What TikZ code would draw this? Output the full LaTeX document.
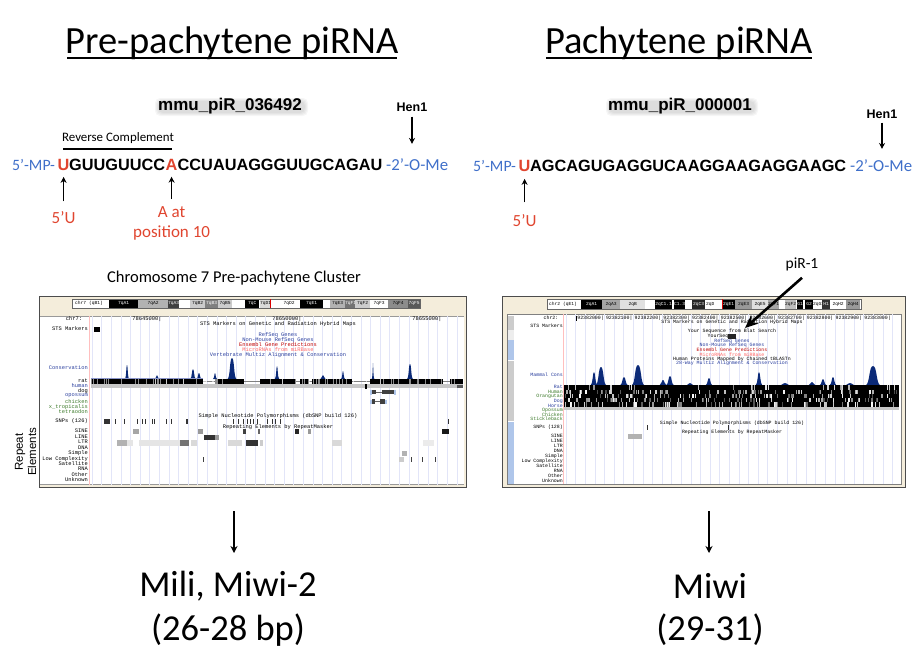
\documentclass[tikz,border=0pt]{standalone}
\usepackage{fontspec}
\setmainfont{Carlito}
\newfontfamily\seqfont{Liberation Sans}
\newfontfamily\trackfont{Liberation Mono}
\usetikzlibrary{arrows.meta, positioning, calc}
\definecolor{slideblue}{HTML}{3F6FC9}
\definecolor{slidered}{HTML}{E0452F}
\definecolor{navypeak}{HTML}{0B2A78}
\definecolor{beige}{HTML}{F4EDDB}
\definecolor{gridline}{HTML}{E2E5F8}
\definecolor{sideblue}{HTML}{AFC6EA}
\definecolor{trackblue}{HTML}{2A3F9E}
\definecolor{trackgreen}{HTML}{3C7A2A}
\newcommand{\fsz}[1]{\fontsize{#1}{#1}\selectfont}

\begin{document}
\begin{tikzpicture}[
    x=1pt, y=-1pt,
    title/.style={font=\fsz{38.5}, inner sep=0pt},
    bigtext/.style={font=\fsz{36.5}, inner sep=0pt},
    seq/.style={font=\seqfont\bfseries\fsz{16.3}, inner sep=0pt, anchor=base west},
    mod/.style={font=\fsz{16.8}, text=slideblue, inner sep=0pt, anchor=base west},
    modleft/.style={mod, font=\fsz{15.8}},
    redseq/.style={seq, text=slidered},
    redlabel/.style={font=\fsz{17}, text=slidered, inner sep=0pt},
    piname/.style={font=\seqfont\bfseries\fsz{17}, inner sep=0pt},
    pihalo/.style={black, opacity=0.035, rounded corners=5pt},
    hen/.style={font=\seqfont\bfseries\fsz{12.5}, inner sep=0pt},
    small/.style={font=\fsz{15}, inner sep=0pt},
    arrowthin/.style={-{Stealth[length=6pt, width=6pt]}, line width=1.4pt},
    arrowbig/.style={-{Stealth[length=7pt, width=7pt]}, line width=1.5pt},
    tracklabel/.style={font=\trackfont\fsz{5.4}, anchor=east, inner sep=0pt},
    trackcentre/.style={font=\trackfont\fsz{5.4}, inner sep=0pt},
    tracklabelR/.style={font=\trackfont\fsz{4.9}, anchor=east, inner sep=0pt},
    trackcentreR/.style={font=\trackfont\fsz{4.9}, inner sep=0pt},
    band/.style={font=\trackfont\fsz{4.6}, inner sep=0pt}
]
    \useasboundingbox (0,0) rectangle (914,654);
    \pgfmathsetseed{11}

    % Titles
    \node[title] (titleL) at (232,43) {Pre-pachytene piRNA};
    \node[title] (titleR) at (679,43) {Pachytene piRNA};
    \draw[line width=1.3pt] (67,58) -- (397,58);
    \draw[line width=1.3pt] (546,58) -- (812,58);

    % Left sequence
    \foreach \d in {0,1,2,3}
        \fill[pihalo] ({158-\d},{101-\d}) rectangle ({305+\d},{113+\d});
    \node[piname] (nameL) at (230,106) {mmu\_piR\_036492};
    \node[hen] (henL) at (412,107) {Hen1};
    \node[small, font=\fsz{12.9}] (revcomp) at (118,138) {Reverse Complement};
    \draw[line width=2.5pt] (63,149) -- (172,149);
    \node[modleft] (mpL) at (12,170) {5'-MP-};
    \node[redseq] (uL) at (57.5,170) {U};
    \node[seq] (seqLa) at (69,170) {GUUGUUCC};
    \node[redseq] (aL) at (165.5,170) {A};
    \node[seq] (seqLb) at (177.5,170) {CCUAUAGGGUUGCAGAU};
    \node[mod] (meL) at (386,170) {-2'-O-Me};
    \node[redlabel, below=41pt of uL] (fiveL) {5'U};
    \node[redlabel, below=36pt of aL] (atL) {A at};
    \node[redlabel, below=8pt of atL] (posL) {position 10};
    \draw[arrowthin, shorten >=6.5pt] (fiveL.north) ++(0,-10) -- (uL.south);
    \draw[arrowthin, shorten >=6.5pt] (atL.north) ++(0,-7) -- (aL.south);
    \draw[arrowthin] (henL.south) ++(0,5) -- ($(henL.south |- meL.north)+(0,-14)$);

    % Right sequence
    \foreach \d in {0,1,2,3}
        \fill[pihalo] ({609-\d},{101-\d}) rectangle ({755+\d},{113+\d});
    \node[piname] (nameR) at (680,106) {mmu\_piR\_000001};
    \node[hen] (henR) at (882,114) {Hen1};
    \node[modleft] (mpR) at (473,171) {5'-MP-};
    \node[redseq] (uR) at (518.5,171) {U};
    \node[seq] (seqR) at (530,171) {AGCAGUGAGGUCAAGGAAGAGGAAGC};
    \node[mod] (meR) at (850,171) {-2'-O-Me};
    \node[redlabel, below=43pt of uR] (fiveR) {5'U};
    \draw[arrowthin, shorten >=7.5pt] (fiveR.north) ++(0,-12) -- (uR.south);
    \draw[arrowthin] (henR.south) ++(0,4) -- ($(henR.south |- meR.north)+(0,-10)$);

    % Left browser shot
    \node[small, font=\fsz{16.5}] (clusterL) at (234,278) {Chromosome 7 Pre-pachytene Cluster};
    \fill[beige] (39,296) rectangle (466,487);
    \fill[white] (40,316) rectangle (464,485);
    \draw[black!70, line width=0.8pt] (466,296) -- (39,296) -- (39,487) -- (466,487) -- cycle;
    \draw[black!40, line width=0.5pt] (40,316) -- (464,316) (40,484.5) -- (464,484.5);
    \foreach \x in {0,...,38}
        \draw[gridline, line width=0.6pt] ({92+\x*9.6},316) -- ({92+\x*9.6},485);
    \draw[red!25, line width=0.6pt] (89.5,316) -- (89.5,485);
    \fill[white] (72,299) rectangle (420,308);
    \draw[black!60, line width=0.8pt] (72,299) rectangle (420,308);
    \node[band, anchor=west] (chrL) at (75,303.5) {chr7 (qB1)};
    \foreach \a/\b/\c/\t/\l in {109/138/black/white/7qA1,138/168/black!30/black/7qA2,168/178/black!75/white/7qA3,190/205/black!20/black/7qB2,205/218/black!50/white/7qB3,218/232/black!20/black/7qB5,245/259/black/white/7qC,260/270/black!15/black/7qD1,278/300/white/black/7qD2,300/323/black/white/7qE1,330/345/black!30/black/7qE3,345/355/black!55/white/7qF1,355/370/black!20/black/7qF2,370/388/white/black/7qF3,388/408/black!45/black/7qF4,408/420/black!65/white/7qF5}
        \node[band, fill=\c, text=\t, minimum height=8pt, minimum width={(\b-\a)*1pt}, anchor=west] (bandL\a) at (\a,303.5) {\l};
    \fill[red!85!black] (269.5,299) rectangle (271,308);

    \node[trackcentre] (rulerL) at (74,319) {chr7:};
    \foreach \x/\t in {147/78645000,287/78650000,427/78655000}
        \node[trackcentre] (rule\x) at (\x,319) {\t|};
    \foreach \y/\c/\t in {
        324/black/{STS Markers on Genetic and Radiation Hybrid Maps},
        335/trackblue/{RefSeq Genes},
        340/trackblue/{Non-Mouse RefSeq Genes},
        345/red!75!black/{Ensembl Gene Predictions},
        350/red!60/{MicroRNAs from miRBase},
        355/trackblue/{Vertebrate Multiz Alignment \& Conservation},
        416/black/{Simple Nucleotide Polymorphisms (dbSNP build 126)},
        427/black/{Repeating Elements by RepeatMasker}}
        \node[trackcentre, text=\c] (centreL\y) at (278,\y) {\t};
    \foreach \y/\c/\t in {
        329/black/{STS Markers},368/trackblue/{Conservation},381/black/rat,386/trackblue/human,391/black/dog,
        396/trackblue/opossum,402/trackgreen/chicken,407/trackgreen/{x\_tropicalis},412/trackgreen/tetraodon,
        421/black/{SNPs (126)},431/black/SINE,437/black/LINE,442/black/LTR,448/black/DNA,453/black/Simple,
        459/black/{Low Complexity},464/black/Satellite,469/black/RNA,475/black/Other,480/black/Unknown}
        \node[tracklabel, text=\c] (trackL\y) at (88,\y) {\t};
    \fill[black] (94,327) rectangle (100,332);

    % Conservation peaks, left
    \foreach \x/\w/\t in {127/1.2/365,157/1/375,193/1.8/369,199/1.5/373,215/1/373,232/3.5/358,277/1.2/366,323/1.5/375,343/1/371,373/0.4/363,410/2/364}
        \fill[navypeak] ({\x-\w-1},379) .. controls ({\x-\w*0.5},378) and ({\x-\w*0.7},\t) .. (\x,\t) .. controls ({\x+\w*0.7},\t) and ({\x+\w*0.5},378) .. ({\x+\w+1},379) -- cycle;
    \fill[trackblue!55] (91,378) rectangle (203,379.5);
    \fill[black!22] (91,384) rectangle (463,388);
    \fill[black!65] (457,385) rectangle (463,388);
    \draw[black!50, line width=0.7pt] (203,381.5) -- (463,381.5);
    \foreach \a/\b in {91/203,215/244,260/296,300/309,312/352,370/443,450/463}
        \fill[black] (\a,379) rectangle (\b,384);
    \foreach \i in {1,...,70} {
        \pgfmathsetmacro\px{91+rnd*372}
        \pgfmathsetmacro\pw{0.3+rnd*0.7}
        \fill[white, opacity=0.55] (\px,379) rectangle ({\px+\pw},384);
    }
    \fill[black] (365,384) rectangle (367,389);
    \draw[sideblue, line width=1.4pt] (371,389.5) -- (371,394.5) (395,389.5) -- (395,394.5) (371,399.5) -- (371,404) (386,399.5) -- (386,404);
    \draw[black!60] (372,392) -- (394,392) (372,401.5) -- (385,401.5);
    \foreach \a/\b/\yy in {372/376/392,382/394/392,372/375/401.5,380/385/401.5}
        \fill[black!75] (\a,{\yy-2.2}) rectangle (\b,{\yy+2.2});

    % SNP ticks and repeats, left
    \fill[black!80] (104,419) rectangle (110,424);
    \fill[black!80] (186,419) rectangle (188,424);
    \foreach \x in {115,124,137,142,145,152,154,166,171,233,238,243,247,250,253,257,267,272,275,280,448}
        \draw[black!80, line width=0.6pt] (\x,419) -- (\x,424);
    \foreach \a/\b/\t/\u/\c in {
        133/139/429/434/black!35,198/203/429/434/black!40,243/246/429/434/black!75,258/260/429/434/black!60,
        295/299/429/434/black!85,308/311/429/434/black!40,442/449/429/434/black!90,
        204/215/435/440/black!80,215/219/435/440/black!40,
        117/127/440/446/black!30,127/133/440/446/black!10,139/180/440/446/black!10,180/189/440/446/black!55,
        191/197/440/446/black!15,228/242/440/446/black!15,246/258/440/446/black!80,260/263/440/446/black!20,
        332/342/440/446/black!15,423/434/440/446/black!8,402/407/451/456/black!30,399/404/457/462/black!20}
        \fill[\c] (\a,\t) rectangle (\b,\u);
    \foreach \x in {203,411,422,435}
        \draw[black!75, line width=0.6pt] (\x,457) -- (\x,462);
    \node[font=\seqfont\fsz{11.5}, rotate=90, inner sep=0pt] (repeatA) at (20,452) {Repeat};
    \node[font=\seqfont\fsz{11.5}, rotate=90, inner sep=0pt] (repeatB) at (32,452) {Elements};

    % Right browser shot
    \fill[beige] (502,296) rectangle (905,487);
    \fill[white] (507,314) rectangle (901,484);
    \draw[black!70, line width=0.8pt] (905,296) -- (502,296) -- (502,487) -- (905,487) -- cycle;
    \draw[black!50, line width=0.5pt] (507,314) rectangle (901,484);
    \foreach \a/\b/\c in {316/330/black!20,330/340/black!7,340/360/sideblue,361/421/black!20,422/431/sideblue,431/484/sideblue}
        \fill[\c] (507.5,\a) rectangle (514,\b);
    \foreach \x in {0,...,34}
        \draw[gridline, line width=0.6pt] ({566+\x*9.6},314) -- ({566+\x*9.6},484);
    \draw[red!25, line width=0.6pt] (563.5,314) -- (563.5,484);
    \fill[white] (547,299) rectangle (861,309);
    \draw[black!60, line width=0.8pt] (547,299) rectangle (861,309);
    \node[band, anchor=west] (chrR) at (549,304) {chr2 (qE1)};
    \foreach \a/\b/\c/\t/\l in {581/602/black/white/2qA1,602/620/black!35/black/2qA3,620/645/black!12/black/2qB,655/672/black/white/2qC1.1,674/685/black/white/C1.3,692/705/black!85/white/2qC3,705/715/white/black/2qD,722/735/black/white/2qE1,735/752/black!40/black/2qE3,752/768/black!12/black/2qE5,768/778/black!35/black/2qF1,785/795/black!25/black/2qF2,797/803/black/white/G1,805/813/black/white/G2,813/822/white/black/2qG3,822/830/black!80/white/H1,830/846/white/black/2qH2,846/860/black!40/black/2qH4}
        \node[band, fill=\c, text=\t, minimum height=9pt, minimum width={(\b-\a)*1pt}, anchor=west] (bandR\a) at (\a,304) {\l};
    \fill[red!85!black] (721.5,299) rectangle (723,309);

    \node[trackcentreR] (rulerR) at (551,318) {chr2:};
    \draw[black, line width=0.5pt] (576,315.5) -- (576,320.5);
    \foreach \i/\t in {0/92382000,1/92382100,2/92382200,3/92382300,4/92382400,5/92382500,6/92382600,7/92382700,8/92382800,9/92382900,10/92383000}
        \node[trackcentreR, anchor=east] (ruleR\i) at ({604+\i*28.7},318) {\t|};
    \foreach \y/\x/\c/\n/\t in {
        322/732/black/a/{STS Markers on Genetic and Radiation Hybrid Maps},
        331/732/black/b/{Your Sequence from Blat Search},
        336/718/black/c/{YourSeq},
        341/732/trackblue/d/{RefSeq Genes},
        345.5/732/trackblue/e/{Non-Mouse RefSeq Genes},
        350/732/red!75!black/f/{Ensembl Gene Predictions},
        354.5/732/red!60/g/{MicroRNAs from miRBase},
        359/732/black/h/{Human Proteins Mapped by Chained tBLASTn},
        363.5/732/trackblue/i/{28-Way Multiz Alignment \& Conservation},
        423/732/black/j/{Simple Nucleotide Polymorphisms (dbSNP build 126)},
        432/732/black/k/{Repeating Elements by RepeatMasker}}
        \node[trackcentreR, text=\c] (centreR\n) at (\x,\y) {\t};
    \fill[black!85] (728,334) rectangle (736,338.5);
    \foreach \y/\c/\n/\t in {
        326/black/a/{STS Markers},375/trackblue/b/{Mammal Cons},387/trackblue/c/Rat,392/trackgreen/d/Human,396.5/trackgreen/e/Orangutan,
        401/trackblue/f/Dog,405.5/trackblue/g/Horse,410/trackgreen/h/Opossum,414.5/trackgreen/i/Chicken,419/trackgreen/j/Stickleback,
        427/black/k/{SNPs (128)},436/black/l/SINE,441/black/m/LINE,446/black/n/LTR,451/black/o/DNA,456/black/p/Simple,
        461/black/q/{Low Complexity},466/black/r/Satellite,471/black/s/RNA,476/black/t/Other,481/black/u/Unknown}
        \node[tracklabelR, text=\c] (trackR\n) at (563,\y) {\t};

    % Conservation peaks, right
    \foreach \x/\w/\t in {594/2/372,601/4/367,624/2.5/377,638/5/365,663/2/380,670/2.5/376,709/2/378,759/2/372,812/2/382,823/2/379,833/2/377,873/6/366,690/2/383,785/3/383,850/3/383}
        \fill[navypeak] ({\x-\w-1.5},385.5) .. controls ({\x-\w*0.5},384) and ({\x-\w*0.7},\t) .. (\x,\t) .. controls ({\x+\w*0.7},\t) and ({\x+\w*0.5},384) .. ({\x+\w+1.5},385.5) -- cycle;

    % Alignment block, right
    \fill[black] (564,385) rectangle (899,407);
    \fill[black!22] (564,407) rectangle (899,410);
    \foreach \ya/\yb/\n/\lo in {385/390/25/50,390/394/70/30,394/398/60/30,398/402/70/30,402/407/70/30} {
        \foreach \i in {1,...,\n} {
            \pgfmathsetmacro\px{564+rnd*333}
            \pgfmathsetmacro\pw{0.5+rnd*1.5}
            \pgfmathsetmacro\pc{int(\lo+rnd*(100-\lo))}
            \fill[white!\pc!black] (\px,\ya) rectangle ({\px+\pw},\yb);
        }
    }

    % SNP ticks and repeats, right
    \draw[black!80, line width=0.6pt] (647,425) -- (647,430);
    \draw[black!80, line width=0.6pt] (728,425) -- (728,430);
    \fill[black!30] (628,434) rectangle (642,439);

    % piR-1 arrow
    \node[small, font=\fsz{15.5}] (pirOne) at (802,264) {piR-1};
    \coordinate (pirTip) at (745,328);
    \draw[-{Stealth[length=13pt, width=11pt]}, line width=2.6pt] ($(pirOne.south)+(0,7)$) -- (pirTip);

    % Bottom labels
    \node[bigtext] (miliA) at (228,586) {Mili, Miwi-2};
    \node[bigtext] (miliB) at (228,630) {(26-28 bp)};
    \node[bigtext] (miwiA) at (710,586) {Miwi};
    \node[bigtext] (miwiB) at (710,630) {(29-31)};
    \coordinate (shotL) at (234,511);
    \coordinate (shotR) at (709,511);
    \coordinate (tipL) at (234,553);
    \coordinate (tipR) at (709,553);
    \draw[arrowbig] (shotL) -- (tipL);
    \draw[arrowbig] (shotR) -- (tipR);
\end{tikzpicture}
\end{document}
